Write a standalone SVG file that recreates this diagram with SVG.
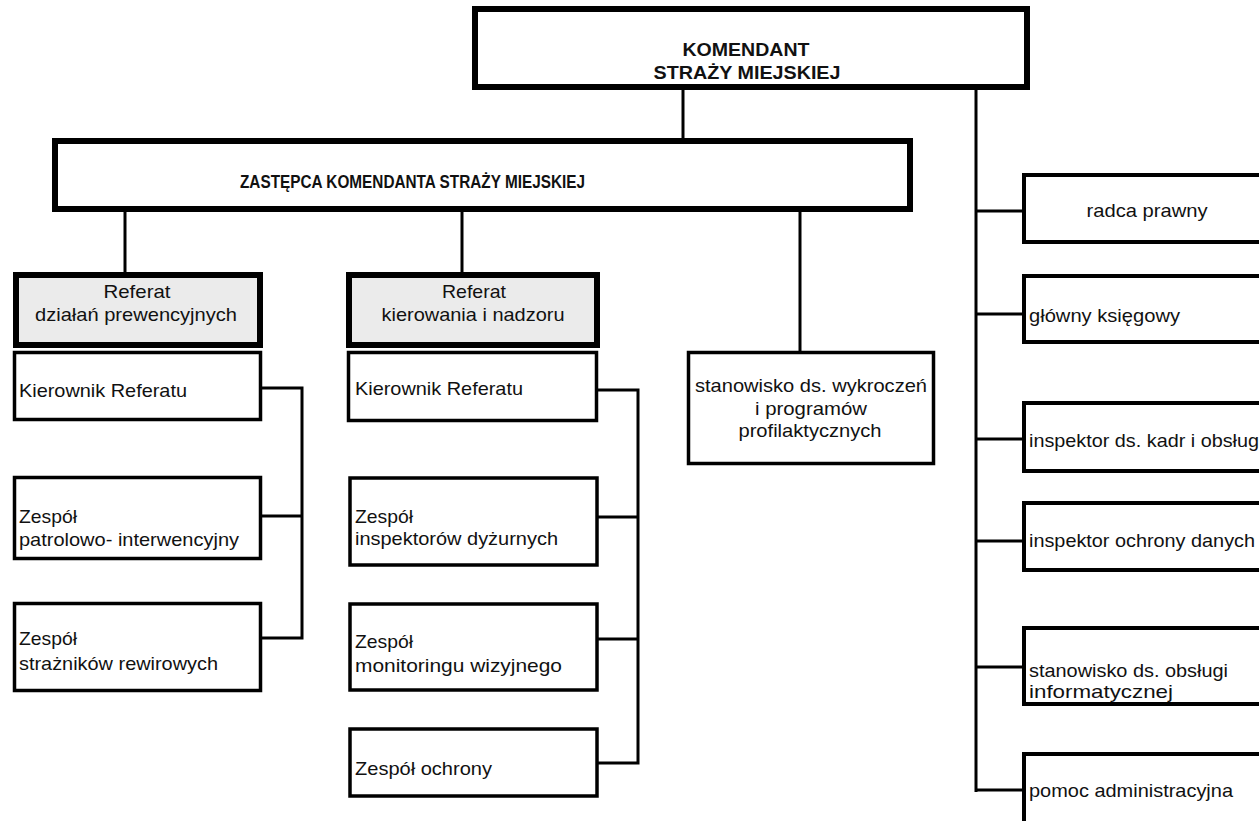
<svg xmlns="http://www.w3.org/2000/svg" width="1259" height="821" viewBox="0 0 1259 821">
<style>
.bg{fill:#ffffff}
.thick{fill:#ffffff;stroke:#000;stroke-width:6}
.ref{fill:#ebebeb;stroke:#000;stroke-width:6}
.box{fill:#ffffff;stroke:#000;stroke-width:3.5}
.rbox{fill:#ffffff;stroke:#000;stroke-width:4}
.ln{fill:none;stroke:#000;stroke-width:3}
text{font-family:"Liberation Sans",Arial,sans-serif;fill:#111;font-size:18.5px}
.b{font-weight:bold;font-size:19px}
.c{text-anchor:middle}
</style>
<rect class="bg" x="0" y="0" width="1259" height="821"/>
<g id="connectors">
<path class="ln" d="M683,90 V138"/>
<path class="ln" d="M976,90 V792"/>
<path class="ln" d="M125,212 V272"/>
<path class="ln" d="M462,212 V272"/>
<path class="ln" d="M800,212 V351"/>
<path class="ln" d="M262,388 H302 V638 H262 M262,516 H302"/>
<path class="ln" d="M597,390 H638 V763 H597 M597,517 H638 M597,639 H638"/>
<path class="ln" d="M976,211 H1023 M976,314 H1023 M976,439 H1023 M976,541 H1023 M976,667 H1023 M976,790 H1023"/>
</g>
<g id="komendant">
<rect class="thick" x="475" y="9" width="552" height="78"/>
<text class="b c" x="746" y="56" textLength="127" lengthAdjust="spacingAndGlyphs">KOMENDANT</text>
<text class="b c" x="747" y="79" textLength="187" lengthAdjust="spacingAndGlyphs">STRAŻY MIEJSKIEJ</text>
</g>
<g id="zastepca">
<rect class="thick" x="55" y="141" width="855" height="68"/>
<text class="b" x="240" y="188" textLength="345" lengthAdjust="spacingAndGlyphs">ZASTĘPCA KOMENDANTA STRAŻY MIEJSKIEJ</text>
</g>
<g id="referat-prewencja">
<rect class="ref" x="16" y="275" width="244" height="70"/>
<text class="c" x="137" y="298" textLength="67" lengthAdjust="spacingAndGlyphs">Referat</text>
<text class="c" x="136" y="321" textLength="202" lengthAdjust="spacingAndGlyphs">działań prewencyjnych</text>
</g>
<g id="referat-kierowanie">
<rect class="ref" x="349" y="275" width="248" height="70"/>
<text class="c" x="474" y="298" textLength="64" lengthAdjust="spacingAndGlyphs">Referat</text>
<text class="c" x="473" y="321" textLength="183" lengthAdjust="spacingAndGlyphs">kierowania i nadzoru</text>
</g>
<g id="kierownik-1">
<rect class="box" x="14.5" y="352.5" width="246" height="67"/>
<text x="19" y="397" textLength="168" lengthAdjust="spacingAndGlyphs">Kierownik Referatu</text>
</g>
<g id="zespol-patrol">
<rect class="box" x="14.5" y="477.5" width="246" height="81"/>
<text x="19" y="523" textLength="58" lengthAdjust="spacingAndGlyphs">Zespół</text>
<text x="19" y="546" textLength="220" lengthAdjust="spacingAndGlyphs">patrolowo- interwencyjny</text>
</g>
<g id="zespol-straznikow">
<rect class="box" x="14.5" y="603.5" width="246" height="87"/>
<text x="19" y="645" textLength="58" lengthAdjust="spacingAndGlyphs">Zespół</text>
<text x="19" y="670" textLength="199" lengthAdjust="spacingAndGlyphs">strażników rewirowych</text>
</g>
<g id="kierownik-2">
<rect class="box" x="348.5" y="352.5" width="248" height="68"/>
<text x="355" y="395" textLength="168" lengthAdjust="spacingAndGlyphs">Kierownik Referatu</text>
</g>
<g id="zespol-inspektorow">
<rect class="box" x="350" y="478" width="247" height="87"/>
<text x="355" y="523" textLength="58" lengthAdjust="spacingAndGlyphs">Zespół</text>
<text x="355" y="545" textLength="203" lengthAdjust="spacingAndGlyphs">inspektorów dyżurnych</text>
</g>
<g id="zespol-monitoringu">
<rect class="box" x="350" y="604" width="247" height="86"/>
<text x="355" y="648" textLength="58" lengthAdjust="spacingAndGlyphs">Zespół</text>
<text x="355" y="672" textLength="207" lengthAdjust="spacingAndGlyphs">monitoringu wizyjnego</text>
</g>
<g id="zespol-ochrony">
<rect class="box" x="350" y="729" width="247" height="67"/>
<text x="355" y="775" textLength="137" lengthAdjust="spacingAndGlyphs">Zespół ochrony</text>
</g>
<g id="stanowisko-wykroczen">
<rect class="box" x="688.5" y="352.5" width="245" height="111"/>
<text class="c" x="811" y="392" textLength="232" lengthAdjust="spacingAndGlyphs">stanowisko ds. wykroczeń</text>
<text class="c" x="811" y="415" textLength="112" lengthAdjust="spacingAndGlyphs">i programów</text>
<text class="c" x="810" y="437" textLength="143" lengthAdjust="spacingAndGlyphs">profilaktycznych</text>
</g>
<g id="radca-prawny">
<path class="rbox" d="M1265,175 H1024 V242 H1265"/>
<text class="c" x="1147" y="217" textLength="121" lengthAdjust="spacingAndGlyphs">radca prawny</text>
</g>
<g id="glowny-ksiegowy">
<path class="rbox" d="M1265,276 H1024 V342 H1265"/>
<text x="1029" y="322" textLength="151" lengthAdjust="spacingAndGlyphs">główny księgowy</text>
</g>
<g id="inspektor-kadr">
<path class="rbox" d="M1265,403 H1024 V471 H1265"/>
<text x="1029" y="447" textLength="230" lengthAdjust="spacingAndGlyphs">inspektor ds. kadr i obsług</text>
</g>
<g id="inspektor-danych">
<path class="rbox" d="M1265,503 H1024 V570 H1265"/>
<text x="1029" y="547" textLength="226" lengthAdjust="spacingAndGlyphs">inspektor ochrony danych</text>
</g>
<g id="stanowisko-informatyczne">
<path class="rbox" d="M1265,628 H1024 V704 H1265"/>
<text x="1029" y="677" textLength="199" lengthAdjust="spacingAndGlyphs">stanowisko ds. obsługi</text>
<text x="1029" y="698" textLength="144" lengthAdjust="spacingAndGlyphs">informatycznej</text>
</g>
<g id="pomoc-administracyjna">
<path class="rbox" d="M1265,754 H1024 V825"/>
<text x="1029" y="797" textLength="204" lengthAdjust="spacingAndGlyphs">pomoc administracyjna</text>
</g>
</svg>
